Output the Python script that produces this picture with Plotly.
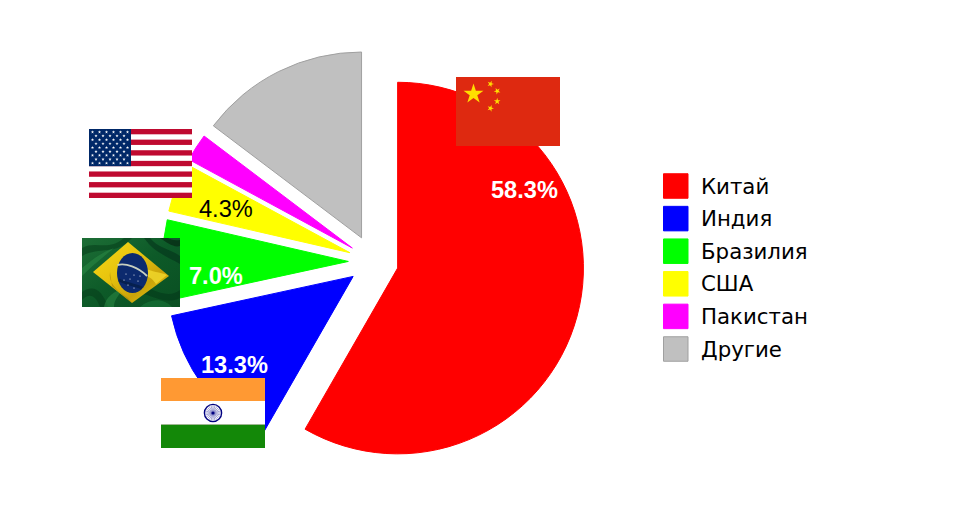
import base64
import math
import plotly.graph_objects as go

PAGE_MARGIN = 8
W, H = 941, 491

categories = ["Китай", "Индия", "Бразилия", "США", "Пакистан", "Другие"]
shares = [58.3, 13.3, 7.0, 4.3, 2.4, 14.7]
pulls = [0.135, 0.135, 0.135, 0.135, 0.135, 0.143]
colors = ["#ff0000", "#0000ff", "#00ff00", "#ffff00", "#ff00ff", "#c0c0c0"]
line_colors = ["#ff0000", "#0000ff", "#00ff00", "#ffff00", "#ff00ff", "#a0a0a0"]
pie_labels = ["58.3%", "13.3%", "7.0%", "4.3%"]
pie_label_colors = ["white", "white", "white", "black"]
pie_label_bold = [True, True, True, False]
pie_label_xy = [(524.5, 190), (234.5, 365), (216, 276), (225.5, 209)]

# pie geometry in window pixels
cx, cy, radius = 373.4, 261.6, 185.8
half = radius * (1 + max(pulls))

legend_x, legend_y0, legend_dy, swatch = 663.5, 186, 32.6, 24.5


def star(x, y, r, rot=0):
    pts = []
    for i in range(10):
        a = math.radians(rot + i * 36 - 90)
        rr = r if i % 2 == 0 else r * 0.382
        pts.append(f"{x + rr * math.cos(a):.2f},{y + rr * math.sin(a):.2f}")
    return " ".join(pts)


def uri(svg):
    return "data:image/svg+xml;base64," + base64.b64encode(svg.encode()).decode()


def china():
    s = '<svg xmlns="http://www.w3.org/2000/svg" width="312" height="207" viewBox="0 0 104 69">'
    s += '<rect width="104" height="69" fill="#de2910"/>'
    s += f'<polygon points="{star(17.5, 17, 10.5)}" fill="#ffde00"/>'
    for x, y, rot in [(34.5, 7, 20), (41.2, 14, 45), (41.2, 24.3, 0), (34.5, 31.3, 20)]:
        s += f'<polygon points="{star(x, y, 3.5, rot)}" fill="#ffde00"/>'
    return uri(s + "</svg>")


def usa():
    s = '<svg xmlns="http://www.w3.org/2000/svg" width="309" height="207" viewBox="0 0 103 69">'
    s += '<rect width="103" height="69" fill="#ffffff"/>'
    for i in range(7):
        s += f'<rect y="{i * 2 * 69 / 13:.2f}" width="103" height="{69 / 13:.2f}" fill="#bf0a30"/>'
    s += '<rect width="42" height="37.2" fill="#002868"/>'
    for row in range(9):
        n = 6 if row % 2 == 0 else 5
        for col in range(n):
            x = 3.5 + col * 7 + (3.5 if row % 2 else 0)
            y = 3 + row * 3.9
            s += f'<polygon points="{star(x, y, 1.7)}" fill="#ffffff"/>'
    return uri(s + "</svg>")


def brazil():
    s = '<svg xmlns="http://www.w3.org/2000/svg" width="294" height="207" viewBox="0 0 98 69">'
    s += ('<defs><linearGradient id="g" x1="0" y1="0" x2="1" y2="1">'
          '<stop offset="0" stop-color="#1d6e36"/><stop offset="0.5" stop-color="#0d5a28"/>'
          '<stop offset="1" stop-color="#0a4f22"/></linearGradient>'
          '<linearGradient id="y" x1="0" y1="0" x2="1" y2="1">'
          '<stop offset="0" stop-color="#f5d816"/><stop offset="0.4" stop-color="#e8c40e"/>'
          '<stop offset="0.7" stop-color="#c9a30a"/><stop offset="1" stop-color="#f0cf14"/>'
          '</linearGradient></defs>')
    s += '<rect width="98" height="69" fill="url(#g)"/>'
    folds = [
        ("M0,10 C14,2 26,14 42,0 L50,0 C34,18 18,8 0,18 Z", "#063d1a"),
        ("M0,30 C8,24 16,16 32,10 C20,20 10,28 0,38 Z", "#2c8a46"),
        ("M68,0 C76,10 86,10 98,18 L98,26 C84,18 72,14 62,0 Z", "#04301a"),
        ("M78,0 C84,4 92,10 98,8 L98,2 C92,3 88,1 86,0 Z", "#051a0c"),
        ("M0,54 C12,46 20,52 26,69 L18,69 C14,58 8,54 0,62 Z", "#063d1a"),
        ("M22,69 C24,58 32,54 42,50 C36,58 32,62 32,69 Z", "#2c8a46"),
        ("M66,50 C76,54 88,60 98,52 L98,60 C86,66 74,60 62,56 Z", "#04361a"),
        ("M58,69 C68,60 82,60 90,69 Z", "#1b7a3c"),
    ]
    for d, c in folds:
        s += f'<path d="{d}" fill="{c}" opacity="0.55"/>'
    s += '<polygon points="11,34 46,4 87,38 50,65" fill="url(#y)"/>'
    s += '<path d="M28,34 C26,44 34,52 46,60 L50,65 L30,48 Z" fill="#a88408" opacity="0.6"/>'
    s += '<path d="M62,30 C70,34 78,34 85,37 L74,46 C70,40 66,38 62,38 Z" fill="#f7e030" opacity="0.7"/>'
    s += '<ellipse cx="50.5" cy="35" rx="15.5" ry="20" fill="#0c2a6e"/>'
    s += '<path d="M35.5,27 C44,25 56,29 65,38" stroke="#c8d0c0" stroke-width="1.8" fill="none"/>'
    s += '<path d="M37,42 C45,46 56,48 60,50" stroke="#06204f" stroke-width="3" fill="none"/>'
    for x, y in [(44, 36), (48, 41), (52, 37), (56, 43), (46, 47), (52, 50), (42, 42), (58, 38)]:
        s += f'<circle cx="{x}" cy="{y}" r="0.6" fill="#ffffff"/>'
    return uri(s + "</svg>")


def india():
    s = '<svg xmlns="http://www.w3.org/2000/svg" width="312" height="210" viewBox="0 0 104 70">'
    s += '<rect width="104" height="70" fill="#ffffff"/>'
    s += '<rect width="104" height="23" fill="#ff9933"/>'
    s += '<rect y="46.5" width="104" height="23.5" fill="#138808"/>'
    s += '<rect y="46" width="104" height="0.7" fill="#a9b39a"/>'
    s += '<circle cx="52" cy="35" r="8.6" fill="#ffffff" stroke="#000080" stroke-width="1.4"/>'
    for i in range(24):
        a = math.radians(i * 15)
        s += (f'<line x1="52" y1="35" x2="{52 + 7.8 * math.cos(a):.2f}" y2="{35 + 7.8 * math.sin(a):.2f}" '
              'stroke="#6a6ab8" stroke-width="0.6"/>')
    s += '<circle cx="52" cy="35" r="1.6" fill="#000080"/>'
    return uri(s + "</svg>")


def px(x):
    return (x - PAGE_MARGIN) / W


def py(y):
    return 1 - (y - PAGE_MARGIN) / H


flags = [
    (china(), 456, 77, 104, 69),
    (usa(), 89, 129, 103, 69),
    (brazil(), 82, 238, 98, 69),
    (india(), 161, 378, 104, 70),
]

fig = go.Figure(
    go.Pie(
        labels=categories,
        values=shares,
        sort=False,
        direction="clockwise",
        rotation=0,
        pull=pulls,
        textinfo="none",
        hoverinfo="label+percent",
        showlegend=False,
        marker=dict(colors=colors, line=dict(color=line_colors, width=1)),
        domain=dict(x=[px(cx - half), px(cx + half)], y=[py(cy + half), py(cy - half)]),
    )
)

images = [
    dict(source=src, xref="paper", yref="paper", x=px(x), y=py(y), sizex=w / W, sizey=h / H,
         xanchor="left", yanchor="top", sizing="stretch", layer="above")
    for src, x, y, w, h in flags
]

annotations = [
    dict(text=f"<b>{t}</b>" if b else t, x=px(x), y=py(y), xref="paper", yref="paper",
         showarrow=False, xanchor="center", yanchor="middle",
         font=dict(family="Liberation Sans", size=23.6, color=c))
    for t, c, b, (x, y) in zip(pie_labels, pie_label_colors, pie_label_bold, pie_label_xy)
]

shapes = []
for i, (name, col, lc) in enumerate(zip(categories, colors, line_colors)):
    yc = legend_y0 + i * legend_dy
    shapes.append(dict(type="rect", xref="paper", yref="paper",
                       x0=px(legend_x), x1=px(legend_x + swatch),
                       y0=py(yc - swatch / 2), y1=py(yc + swatch / 2),
                       fillcolor=col, line=dict(color=lc, width=1)))
    annotations.append(dict(text=name, x=px(legend_x + 35.5), y=py(yc), xref="paper", yref="paper",
                            showarrow=False, xanchor="left", yanchor="middle",
                            font=dict(family="DejaVu Sans", size=21.3, color="#000000")))

fig.update_layout(
    width=W, height=H,
    margin=dict(l=0, r=0, t=0, b=0),
    paper_bgcolor="white",
    images=images,
    annotations=annotations,
    shapes=shapes,
    showlegend=False,
)

fig.write_html("out.html", config={"displayModeBar": False})
